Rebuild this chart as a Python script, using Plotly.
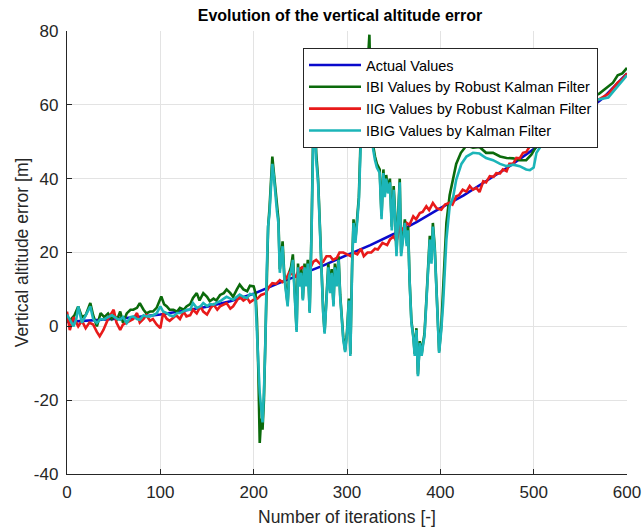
import plotly.graph_objects as go

# ---- data -------------------------------------------------------------
actual_iter = [0, 25, 50, 75, 100, 125, 150, 175, 200, 225, 250, 275, 300, 325,
               350, 375, 400, 425, 450, 475, 500, 525, 550, 575, 600]
actual_err = [1.2, 1.5, 2.0, 2.5, 3.2, 4.2, 5.3, 6.8, 8.8, 11.5, 14.0, 16.5, 19.3,
              22.0, 25.0, 28.3, 32.0, 35.5, 39.5, 43.5, 48.0, 52.5, 57.0, 62.0, 68.5]

ibi_iter = [0, 4, 8, 12, 16, 20, 25, 28, 32, 36, 40, 44, 48, 50, 54, 57, 60, 64, 68,
            71, 75, 78, 82, 85, 89, 92, 96, 101, 104, 107, 110, 114, 118, 121, 125,
            128, 132, 135, 139, 142, 146, 150, 153, 157, 160, 164, 168, 171, 175,
            178, 182, 185, 189, 193, 196, 200,
            202, 203.5, 205, 206.5, 208, 209.5, 211, 212.5, 214, 215.5, 217, 218.5,
            220, 221.5, 223.5, 225, 226.5, 228, 229.5, 231, 232.7, 234.5, 236.4, 238,
            240, 242, 243.5, 244.7, 246, 247.5, 249, 251, 252.7, 254.5, 256, 258, 260,
            262, 263.6, 265.5, 267, 269, 271, 272.7, 274.5, 276, 278, 280, 282, 283.6,
            285.5, 287, 289, 291, 292.7, 294.5, 296, 298, 300, 302, 303.6, 305.5, 307,
            309, 311, 312.7, 314.5, 316, 318, 320, 322, 324, 326, 328, 330, 332, 335,
            337, 339, 340.5, 342, 344, 346, 348, 350, 351.5, 353, 355, 356.5, 358,
            360, 362, 364, 365.5, 367, 369, 371, 372.6, 374.4, 376, 378, 380, 381.5,
            383, 385, 388.7, 390.5, 392, 394, 396, 398.7, 401, 403, 406.5, 410, 413.7,
            417, 422, 428, 435, 442, 449, 456.5, 464, 471, 478, 485, 492, 497.5, 503,
            510, 517, 530, 545, 560, 570, 580, 585, 590, 595, 600]
ibi_err = [1.4, 1.8, 3.0, 5.4, 2.5, 3.0, 6.3, 3.0, 0.0, 3.6, 2.5, 3.5, 2.0, 3.0, 2.0,
           4.0, 1.0, 3.5, 4.5, 4.5, 5.0, 6.3, 4.5, 3.5, 4.0, 4.0, 5.0, 8.1, 6.0, 5.4,
           4.5, 4.5, 4.0, 5.0, 4.5, 5.4, 6.0, 7.7, 9.0, 7.0, 9.0, 8.0, 6.8, 7.5, 7.0,
           8.5, 9.0, 10.0, 9.0, 8.0, 10.0, 11.3, 10.0, 9.5, 11.0, 10.8,
           9.0, 2.0, -12.0, -31.6, -25.0, -28.0, -20.0, -5.0, 15.0, 27.0, 32.0, 40.0,
           46.0, 42.0, 36.0, 32.0, 29.0, 15.5, 19.0, 23.0, 14.5, 10.0, 6.0, 14.5,
           16.0, 19.5, 11.0, 4.0, -1.0, 17.0, 11.5, 15.5, 7.5, 17.0, 11.5, 18.0, 4.0,
           26.0, 50.0, 58.0, 47.0, 40.0, 26.0, 15.0, 4.0, -1.5, 7.5, 17.0, 9.5, 15.5,
           6.0, 17.0, 11.5, 19.0, 8.5, 2.0, -3.0, -6.5, -1.5, 7.5, -7.5, 17.0, 29.0,
           23.5, 29.0, 35.0, 50.0, 56.0, 60.0, 64.0, 70.0, 79.0, 56.0, 49.0, 46.0,
           44.0, 42.5, 30.0, 42.5, 36.0, 41.0, 37.0, 40.0, 27.0, 38.0, 31.0, 20.0,
           31.0, 40.0, 20.0, 25.0, 29.0, 22.5, 27.0, 13.0, 1.5, -2.5, -7.5, -0.5,
           -13.0, -4.0, -7.5, -4.5, -2.0, 7.0, 24.5, 18.0, 28.0, 21.5, 8.5, -6.8,
           0.0, 10.0, 28.0, 35.5, 40.0, 44.0, 47.0, 49.0, 48.4, 48.6, 47.0, 47.0,
           46.0, 45.6, 45.5, 45.0, 45.0, 46.5, 48.8, 51.0, 54.0, 57.0, 60.0, 62.0,
           63.0, 65.0, 66.0, 68.0, 68.5, 70.0]

iig_iter = [0, 3, 7, 12, 16, 20, 24, 28, 32, 35, 39, 44, 50, 53, 57, 60, 64, 68, 71,
            75, 78, 82, 85, 89, 92, 96, 100, 103, 107, 110, 114, 117, 121, 125, 128,
            132, 135, 139, 143, 146, 150, 154, 157, 161, 164, 168, 171, 175, 178, 182,
            185, 189, 193, 196, 200, 204, 208, 213, 216, 220, 224, 228, 231, 235, 238,
            242, 245, 249, 252, 256, 260, 264, 267, 271, 274.5, 278, 282, 285, 289,
            292, 296, 300, 304, 307, 311, 315, 318, 322, 326, 330, 333, 338, 343, 346,
            350, 353, 356.5, 361, 364, 367, 371, 374, 378, 381, 385, 388, 392, 396,
            401, 405, 410, 413, 417, 420, 424, 428, 431.5, 435, 438.7, 442, 446, 449,
            453, 457, 460, 464, 467, 471, 474, 478, 481.5, 485, 488.6, 492, 496, 500,
            503, 506, 510, 520, 530, 540, 550, 560, 570, 580, 585, 590, 595, 600]
iig_err = [4.0, -1.0, 2.5, 0.0, 1.5, -0.5, 1.0, 0.5, -1.5, -2.7, -1.0, 2.0, 4.5, 1.0,
           -1.0, 0.5, 1.0, 1.5, 2.0, 3.6, 1.0, 2.0, 3.0, 1.5, 2.0, 0.5, -0.5, 3.6,
           2.0, 1.5, 2.5, 3.0, 2.0, 4.0, 2.7, 3.0, 4.5, 3.5, 5.4, 4.0, 3.2, 5.0, 5.9,
           4.5, 5.4, 6.0, 6.3, 4.8, 5.4, 7.0, 8.0, 7.0, 7.7, 6.5, 7.2, 7.5, 8.5, 9.0,
           10.5, 11.7, 11.5, 12.5, 12.0, 13.0, 14.5, 14.0, 13.5, 15.5, 16.0, 15.0,
           15.5, 17.5, 18.0, 17.0, 17.5, 19.0, 19.0, 18.0, 18.5, 20.0, 20.0, 19.5,
           19.0, 20.0, 19.5, 21.0, 19.0, 20.0, 20.0, 21.0, 20.8, 22.6, 22.0, 23.5,
           24.4, 23.0, 27.0, 26.0, 28.0, 27.5, 29.8, 29.0, 30.7, 31.0, 32.5, 31.5,
           33.4, 32.0, 31.6, 33.0, 33.5, 33.0, 35.2, 35.5, 37.0, 36.5, 38.0, 37.0,
           37.5, 36.4, 39.3, 39.0, 40.7, 40.5, 41.5, 41.4, 42.5, 42.0, 44.0, 44.0,
           45.6, 45.5, 47.0, 47.2, 48.8, 49.0, 50.0, 51.0, 51.5, 53.5, 55.0, 56.5,
           58.0, 60.0, 61.5, 63.0, 64.5, 66.0, 67.0, 68.5]

ibig_iter = [0, 4, 7, 10, 12, 16, 20, 25, 28, 32, 36, 39, 44, 48, 50, 54, 57, 60, 64,
             68, 71, 75, 78, 82, 85, 89, 92, 96, 100, 103, 107, 110, 114, 118, 121,
             125, 128, 132, 135, 139, 143, 146, 150, 153, 157, 161, 164, 168, 171, 175,
             178, 182, 185, 189, 193, 196, 200,
             202, 203.5, 205, 206.5, 208, 209.5, 211, 212.5, 214, 215.5, 217, 218.5,
             220, 221.5, 223.5, 225, 226.5, 228, 229.5, 231, 232.7, 234.5, 236.4, 238,
             240, 242, 243.5, 244.7, 246, 247.5, 249, 251, 252.7, 254.5, 256, 258, 260,
             262, 263.6, 265.5, 267, 269, 271, 272.7, 274.5, 276, 278, 280, 282, 283.6,
             285.5, 287, 289, 291, 292.7, 294.5, 296, 298, 300, 302, 303.6, 305.5, 307,
             309, 311, 312.7, 314.5, 316, 318, 320, 322, 324, 326, 328, 330, 332, 335,
             337, 339, 340.5, 342, 344, 346, 348, 350, 351.5, 353, 355, 356.5, 358,
             360, 362, 364, 365.5, 367, 369, 371, 372.6, 374.4, 376, 378, 380, 381.5,
             383, 385, 388.7, 390.5, 392, 394, 396, 398.7, 401, 403, 406.5, 410, 413.7,
             417, 422.6, 428, 435, 442, 449, 456.5, 464, 471, 478, 485, 492, 496, 500,
             503, 510, 517, 530, 545, 560, 570, 580, 585, 590, 595, 600]
ibig_err = [3.2, 1.5, 0.0, 2.0, 5.4, 1.0, 3.0, 5.4, 2.0, 0.9, 2.0, 1.8, 2.5, 3.0, 2.7,
            2.0, 1.8, 2.5, 0.9, 2.5, 2.7, 2.0, 1.8, 3.0, 2.7, 2.7, 3.0, 3.5, 5.4, 4.0,
            3.6, 3.0, 2.7, 3.6, 3.6, 4.0, 4.5, 4.5, 6.3, 5.0, 5.4, 6.3, 5.5, 6.0, 5.9,
            6.5, 6.8, 7.5, 8.0, 7.5, 7.2, 8.0, 8.6, 8.0, 7.7, 8.8, 8.6,
            7.0, 0.0, -10.0, -18.0, -22.0, -26.0, -18.0, -5.0, 15.0, 27.0, 30.7, 38.0,
            44.0, 41.0, 34.0, 31.0, 28.0, 14.5, 18.0, 21.7, 13.5, 9.0, 5.4, 13.5,
            15.0, 18.0, 10.0, 3.6, -1.5, 16.0, 10.8, 14.5, 7.0, 16.0, 10.8, 17.0, 3.6,
            25.0, 48.0, 56.0, 45.0, 39.0, 25.0, 14.5, 3.6, -2.0, 7.0, 16.0, 9.0, 14.5,
            5.4, 16.0, 10.8, 18.0, 8.0, 1.8, -3.6, -7.0, -2.0, 7.0, -8.0, 16.0, 28.0,
            22.6, 28.0, 34.0, 48.0, 55.0, 58.0, 62.0, 68.0, 72.0, 55.0, 48.0, 45.0,
            43.0, 41.6, 29.0, 41.5, 35.0, 40.0, 36.0, 39.0, 26.0, 37.0, 30.0, 19.0,
            30.0, 39.0, 19.0, 24.0, 28.0, 21.7, 26.0, 12.6, 1.0, -3.0, -8.0, -1.0,
            -13.5, -4.5, -8.0, -5.0, -2.7, 6.3, 23.5, 17.0, 27.0, 20.8, 8.0, -7.2,
            -1.0, 6.3, 23.5, 32.5, 35.0, 39.7, 44.0, 46.0, 47.0, 46.8, 45.6, 45.0,
            44.0, 43.4, 43.8, 43.4, 42.5, 42.3, 43.0, 47.0, 49.7, 53.0, 56.0, 59.0,
            61.0, 61.5, 62.0, 63.5, 65.0, 66.5, 68.0]

x_ticks = [0, 100, 200, 300, 400, 500, 600]
y_ticks = [-40, -20, 0, 20, 40, 60, 80]
y_tick_labels = ["-40", "-20", "0", "20", "40", "60", "80"]

FONT = "Liberation Sans, Arial, sans-serif"
AX_COLOR = "#262626"

fig = go.Figure()
series = [
    ("Actual Values", actual_iter, actual_err, "#0a0acc"),
    ("IBI Values by Robust Kalman Filter", ibi_iter, ibi_err, "#0b6a0b"),
    ("IIG Values by Robust Kalman Filter", iig_iter, iig_err, "#e81a1a"),
    ("IBIG Values by Kalman Filter", ibig_iter, ibig_err, "#1cb5b8"),
]
for name, xs, ys, color in series:
    fig.add_trace(go.Scatter(x=xs, y=ys, mode="lines", name=name,
                             line=dict(color=color, width=2.6)))

axis_common = dict(
    showgrid=True, gridcolor="#e3e3e3", gridwidth=1,
    showline=True, linecolor=AX_COLOR, linewidth=1.3,
    ticks="inside", ticklen=5, tickcolor=AX_COLOR,
    tickfont=dict(family=FONT, size=17, color=AX_COLOR),
    zeroline=False, mirror=False, automargin=False,
)

fig.update_layout(
    width=644, height=529,
    margin=dict(l=67, r=17, t=31, b=55),
    paper_bgcolor="white", plot_bgcolor="white",
    title=dict(text="<b>Evolution of the vertical altitude error</b>",
               font=dict(family=FONT, size=16, color="black"),
               x=340 / 644, xanchor="center",
               y=1 - 15 / 529, yanchor="middle", yref="container"),
    xaxis=dict(range=[0, 600], tickvals=x_ticks, ticklabelstandoff=2,
               title=dict(text="Number of iterations [-]",
                          font=dict(family=FONT, size=17.5, color=AX_COLOR),
                          standoff=10),
               **axis_common),
    yaxis=dict(range=[-40, 80], tickvals=y_ticks, ticktext=y_tick_labels,
               ticklabelstandoff=4,
               title=dict(text="Vertical altitude error [m]",
                          font=dict(family=FONT, size=17.5, color=AX_COLOR),
                          standoff=0),
               **axis_common),
    legend=dict(x=(303 - 67) / 560, y=(474 - 48) / 443,
                xanchor="left", yanchor="top",
                bgcolor="white", bordercolor=AX_COLOR, borderwidth=1,
                font=dict(family=FONT, size=14.5, color="black"),
                itemwidth=52, tracegroupgap=0),
    showlegend=True,
)

fig.write_html("out.html")
